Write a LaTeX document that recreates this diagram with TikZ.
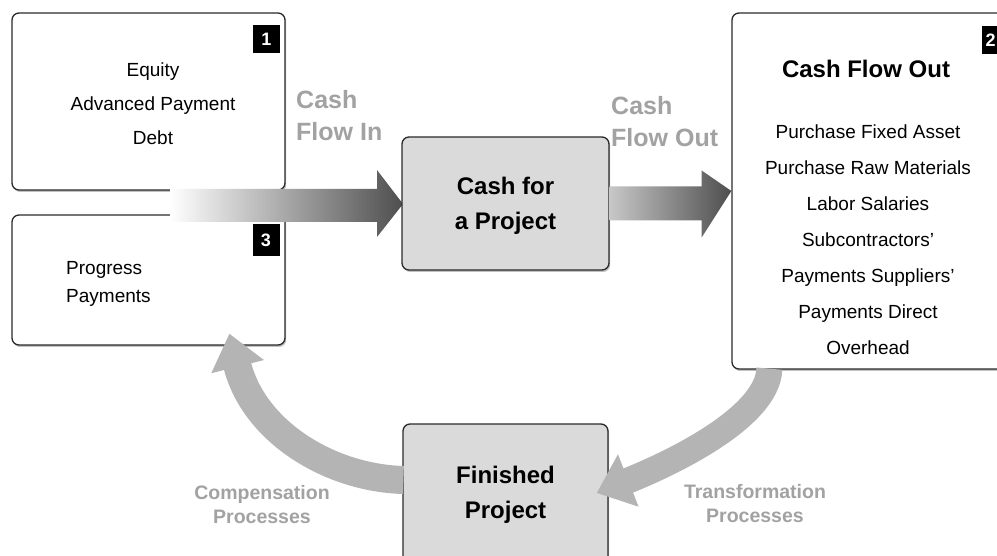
\documentclass[tikz,border=0pt]{standalone}
\usepackage{fontspec}
\setmainfont{Liberation Sans}
\usetikzlibrary{arrows.meta,calc,shadows}
\definecolor{boxline}{HTML}{2A2A2A}
\definecolor{lblgray}{HTML}{A2A2A2}
\definecolor{arrgray}{HTML}{B4B4B4}
\definecolor{darkarr}{HTML}{4E4E4E}
\definecolor{boxfill}{HTML}{DADADA}
\begin{document}
\begin{tikzpicture}[x=1pt,y=-1pt,
  box/.style={draw=boxline,line width=1.3pt,rounded corners=7pt,fill=white,
    inner sep=0pt,
    drop shadow={shadow xshift=1.2pt,shadow yshift=-2pt,fill=black!40,opacity=0.6}},
  graybox/.style={box,fill=boxfill},
  numbox/.style={fill=black,text=white,font=\bfseries\fontsize{18}{18}\selectfont,
    minimum width=27pt,minimum height=28pt,inner sep=0pt},
  plain/.style={font=\fontsize{19}{34}\selectfont,align=center,inner sep=0pt},
  boldtxt/.style={font=\bfseries\fontsize{24}{35}\selectfont,align=center,inner sep=0pt},
  glabel/.style={font=\bfseries\fontsize{25}{32}\selectfont,text=lblgray,align=left,inner sep=0pt},
  plabel/.style={font=\bfseries\fontsize{19.5}{24}\selectfont,text=lblgray,align=center,inner sep=0pt},
  curvarr/.style={draw=arrgray,line width=#1}
]
\useasboundingbox[fill=white] (0,0) rectangle (997,556);

\coordinate (inStart) at (170,205);

% boxes
\node[box,minimum width=273pt,minimum height=177pt] (b1) at (148.5,101.5) {};
\node[box,minimum width=273pt,minimum height=130pt] (b3) at (148.5,280) {};
\node[box,minimum width=274pt,minimum height=356pt] (b2) at (869,191) {};

% Cash Flow In arrow
\shade[left color=white,right color=darkarr]
  ($(inStart)+(0,-16)$) -- ($(inStart)+(207,-16)$) -- ($(inStart)+(207,-35)$)
  -- (403,204) -- ($(inStart)+(207,32)$) -- ($(inStart)+(207,17)$)
  -- ($(inStart)+(0,17)$) -- cycle;

\node[graybox,minimum width=207pt,minimum height=133pt] (cash) at (505.5,203.5) {};
\node[graybox,minimum width=205pt,minimum height=142pt] (fin) at (505.5,495) {};

% Cash Flow Out arrow
\shade[left color=black!22,right color=darkarr]
  ($(cash.east)+(0,-17)$) -- ($(cash.east)+(92,-17)$) -- ($(cash.east)+(92,-33)$)
  -- (b2.west) -- ($(cash.east)+(92,34)$) -- ($(cash.east)+(92,17)$)
  -- ($(cash.east)+(0,17)$) -- cycle;

% number tags
\node[numbox] (n1) at (266.5,39) {1};
\node[numbox,minimum height=32pt] (n3) at (266,240) {3};
\node[numbox,minimum width=17pt] (n2) at (990.5,40) {2};

% box texts
\node[plain] (t1) at (153,104) {Equity\\Advanced Payment\\Debt};
\node[plain,font=\fontsize{19}{28}\selectfont,align=left,anchor=west] (t3) at (66,284) {Progress\\Payments};
\node[boldtxt] (tcash) at (505.5,206) {Cash for\\a Project};
\node[boldtxt,font=\bfseries\fontsize{24}{24}\selectfont] (t2h) at (866,69) {Cash Flow Out};
\node[plain,font=\fontsize{19}{36}\selectfont] (t2) at (868,240)
  {Purchase Fixed Asset\\Purchase Raw Materials\\Labor Salaries\\Subcontractors'\\Payments Suppliers'\\Payments Direct\\Overhead};
\node[boldtxt] (tfin) at (505.5,495) {Finished\\Project};

% gray labels
\node[glabel,anchor=west] (lin) at (296,116) {Cash\\Flow In};
\node[glabel,anchor=west] (lout) at (611,122) {Cash\\Flow Out};
\node[plabel] (lcomp) at (262,505) {Compensation\\Processes};
\node[plabel] (ltrans) at (755,504) {Transformation\\Processes};

% curved arrows
\coordinate (trStart) at ($(b2.south west)+(38,-1)$);
\coordinate (trEnd) at ($(fin.east)+(-12,-2)$);
\draw[curvarr=26pt,-{Triangle[length=34pt,width=54pt]}]
  (trStart) .. controls (768,420) and (660,468) .. (trEnd);

\coordinate (coStart) at ($(fin.west)+(1,-15)$);
\coordinate (coEnd) at ($(b3.south west)+(218,-12)$);
\draw[curvarr=28pt,-{Triangle[length=34pt,width=52pt]}]
  (coStart) .. controls (330,478) and (254,432) .. (coEnd);
\end{tikzpicture}
\end{document}
